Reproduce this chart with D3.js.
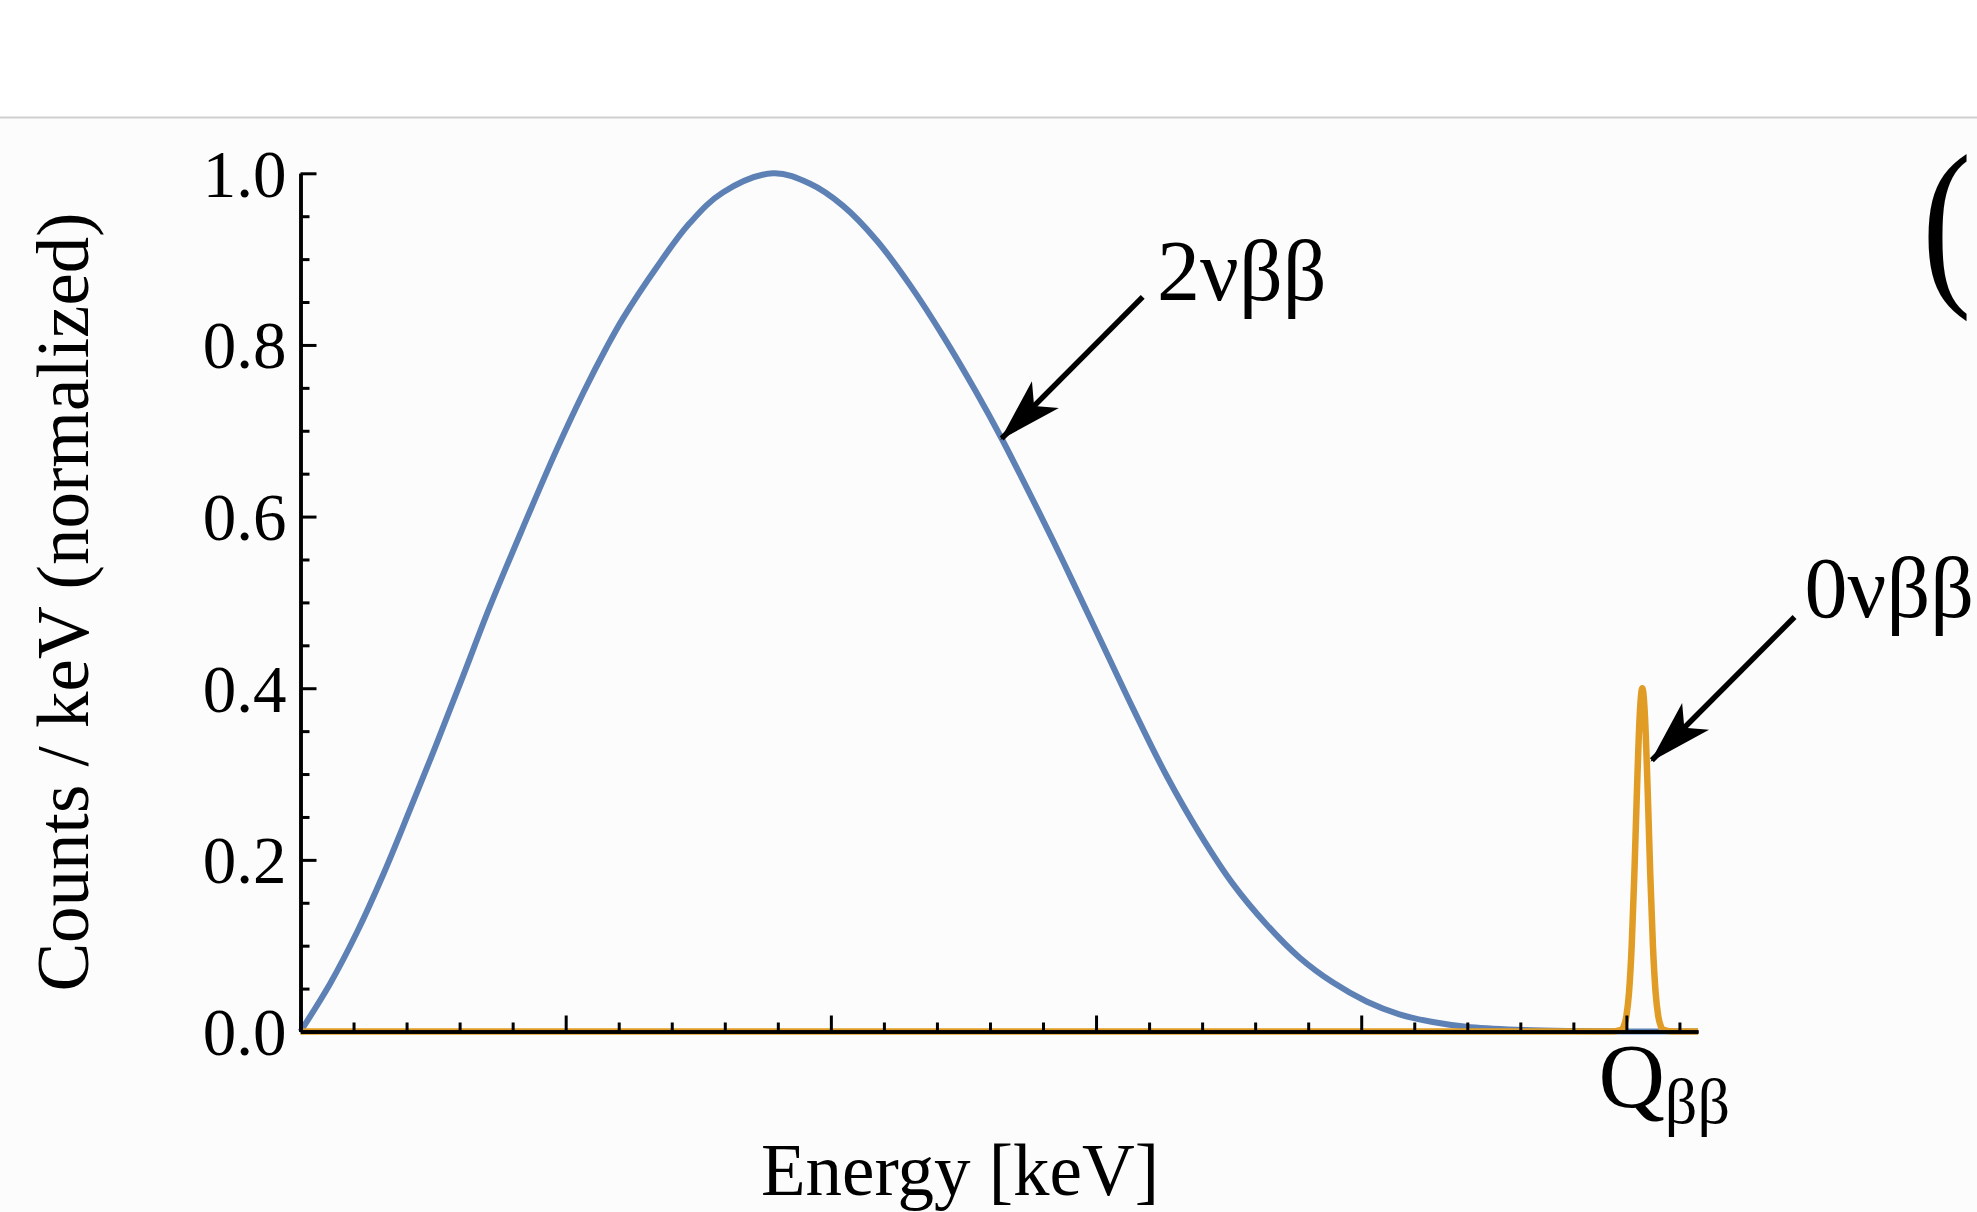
<!DOCTYPE html>
<html>
<head>
<meta charset="utf-8">
<script src="https://cdn.jsdelivr.net/npm/d3@7"></script>
<style>
  html, body { margin: 0; padding: 0; background: #ffffff; }
  svg { display: block; }
  text { font-family: "Liberation Serif", "DejaVu Serif", "Times New Roman", serif; fill: #000; }
</style>
</head>
<body>
<svg id="chart" width="1977" height="1212"></svg>
<script>
// Two-neutrino double-beta spectrum (continuous), energy in keV
const energy2nu = [0, 56, 106, 156, 206, 257, 307, 357, 420, 483, 533, 577, 608, 671, 734, 797, 891,
  960, 1023, 1086, 1149, 1212, 1275, 1322, 1369, 1419, 1457, 1507, 1570, 1633, 1696, 1758, 1821,
  1884, 1947, 2010, 2072, 2135, 2198, 2293, 2400, 2500, 2635];
const counts2nu = [0, 0.056, 0.115, 0.183, 0.258, 0.336, 0.415, 0.495, 0.588, 0.678, 0.744, 0.797, 0.831,
  0.890, 0.942, 0.978, 1.0, 0.988, 0.962, 0.922, 0.870, 0.810, 0.744, 0.691, 0.634, 0.572, 0.523, 0.458,
  0.376, 0.298, 0.230, 0.172, 0.125, 0.086, 0.057, 0.035, 0.020, 0.011, 0.0055, 0.002, 0.0005, 0, 0];

// Neutrinoless double-beta line at the Q value, energy in keV
const energy0nu = [0, 2470, 2490, 2495, 2500, 2505, 2510, 2515, 2520, 2525, 2530, 2535, 2540, 2545,
  2550, 2555, 2560, 2565, 2570, 2590, 2635];
const counts0nu = [0, 0, 0.002, 0.006, 0.018, 0.046, 0.100, 0.183, 0.283, 0.367, 0.400, 0.367, 0.283,
  0.183, 0.100, 0.046, 0.018, 0.006, 0.002, 0, 0];

// Axis ticks
const yMajorTicks = [0, 0.2, 0.4, 0.6, 0.8, 1.0];
const yMinorTicks = [0.05, 0.1, 0.15, 0.25, 0.3, 0.35, 0.45, 0.5, 0.55, 0.65, 0.7, 0.75, 0.85, 0.9, 0.95];
const xMajorTicks = [0, 500, 1000, 1500, 2000, 2500];
const xMinorTicks = [100, 200, 300, 400, 600, 700, 800, 900, 1100, 1200, 1300, 1400,
  1600, 1700, 1800, 1900, 2100, 2200, 2300, 2400, 2600];
const qValue = 2500;

// Annotations: label text, label anchor, arrow tail and arrow tip, all in data units
const labelNames = ["2νββ", "0νββ"];
const labelPos = [[1615, 0.852], [2836, 0.483]];
const arrowTail = [[1588, 0.856], [2817, 0.483]];
const arrowTip = [[1322, 0.691], [2548, 0.316]];

const W = 1977, H = 1212;
const svg = d3.select("#chart");

// page background with the header rule
svg.append("rect").attr("x", 0).attr("y", 0).attr("width", W).attr("height", H).attr("fill", "#fcfcfc");
svg.append("rect").attr("x", 0).attr("y", 0).attr("width", W).attr("height", 117).attr("fill", "#ffffff");
svg.append("line").attr("x1", 0).attr("x2", W).attr("y1", 117.5).attr("y2", 117.5)
  .attr("stroke", "#cfcfcf").attr("stroke-width", 2);

const x = d3.scaleLinear().domain([0, 2635]).range([300.5, 1698]);
const y = d3.scaleLinear().domain([0, 1]).range([1031.5, 173.3]);

const blue = "#5e81b5", orange = "#e09c24";

const line2 = d3.line().x((d, i) => x(energy2nu[i])).y(d => y(d)).curve(d3.curveCatmullRom.alpha(0.5));
const line0 = d3.line().x((d, i) => x(energy0nu[i])).y(d => y(d)).curve(d3.curveMonotoneX);

svg.append("path").datum(counts2nu).attr("d", line2)
  .attr("fill", "none").attr("stroke", blue).attr("stroke-width", 6).attr("stroke-linejoin", "round");
svg.append("path").datum(counts0nu).attr("d", line0)
  .attr("fill", "none").attr("stroke", orange).attr("stroke-width", 6.5).attr("stroke-linejoin", "round");

// Axes
function styleAxis(g, w) {
  g.selectAll("path.domain").attr("stroke", "#000").attr("stroke-width", w);
  g.selectAll(".tick line").attr("stroke", "#000").attr("stroke-width", 3);
}

const yAxisMinor = svg.append("g").attr("transform", `translate(${x(0)},0)`)
  .call(d3.axisLeft(y).tickValues(yMinorTicks).tickSizeInner(-9).tickSizeOuter(0).tickFormat(""));
styleAxis(yAxisMinor, 3.5);
const yAxis = svg.append("g").attr("transform", `translate(${x(0)},0)`)
  .call(d3.axisLeft(y).tickValues(yMajorTicks).tickSizeInner(-16).tickSizeOuter(0)
    .tickPadding(14).tickFormat(d3.format(".1f")));
styleAxis(yAxis, 3.5);
yAxis.selectAll(".tick text").attr("font-size", 67).attr("fill", "#000")
  .attr("font-family", "Liberation Serif, DejaVu Serif, serif").attr("dy", "0.34em");

const xAxisMinor = svg.append("g").attr("transform", `translate(0,${y(0)})`)
  .call(d3.axisBottom(x).tickValues(xMinorTicks).tickSizeInner(-9).tickSizeOuter(0).tickFormat(""));
styleAxis(xAxisMinor, 3.5);
const xAxis = svg.append("g").attr("transform", `translate(0,${y(0)})`)
  .call(d3.axisBottom(x).tickValues(xMajorTicks).tickSizeInner(-16).tickSizeOuter(0).tickFormat(""));
styleAxis(xAxis, 3.5);

// Q-value label under its tick
const qText = svg.append("text").attr("x", x(qValue) - 28).attr("y", 1107).attr("font-size", 92);
qText.append("tspan").text("Q");
qText.append("tspan").attr("dy", 16).attr("font-size", 64).text("ββ");

// Axis titles
svg.append("text").attr("x", 960).attr("y", 1195).attr("text-anchor", "middle")
  .attr("font-size", 73).text("Energy [keV]");
svg.append("text").attr("transform", "translate(88,602) rotate(-90)").attr("text-anchor", "middle")
  .attr("font-size", 73).text("Counts / keV (normalized)");

// Arrowhead marker
const defs = svg.append("defs");
defs.append("marker").attr("id", "head").attr("viewBox", "0 0 64 42")
  .attr("refX", 62).attr("refY", 21).attr("markerWidth", 64).attr("markerHeight", 42)
  .attr("markerUnits", "userSpaceOnUse").attr("orient", "auto")
  .append("path").attr("d", "M0,2 L64,21 L0,40 L16,21 Z").attr("fill", "#000");

labelNames.forEach((name, i) => {
  svg.append("line")
    .attr("x1", x(arrowTail[i][0])).attr("y1", y(arrowTail[i][1]))
    .attr("x2", x(arrowTip[i][0])).attr("y2", y(arrowTip[i][1]))
    .attr("stroke", "#000").attr("stroke-width", 5.5).attr("marker-end", "url(#head)");
  svg.append("text").attr("x", x(labelPos[i][0])).attr("y", y(labelPos[i][1]))
    .attr("font-size", 86).text(name);
});

// Panel label
svg.append("text").attr("transform", "translate(1922,282) scale(0.8,1)")
  .attr("font-size", 185).text("(");
</script>
</body>
</html>
